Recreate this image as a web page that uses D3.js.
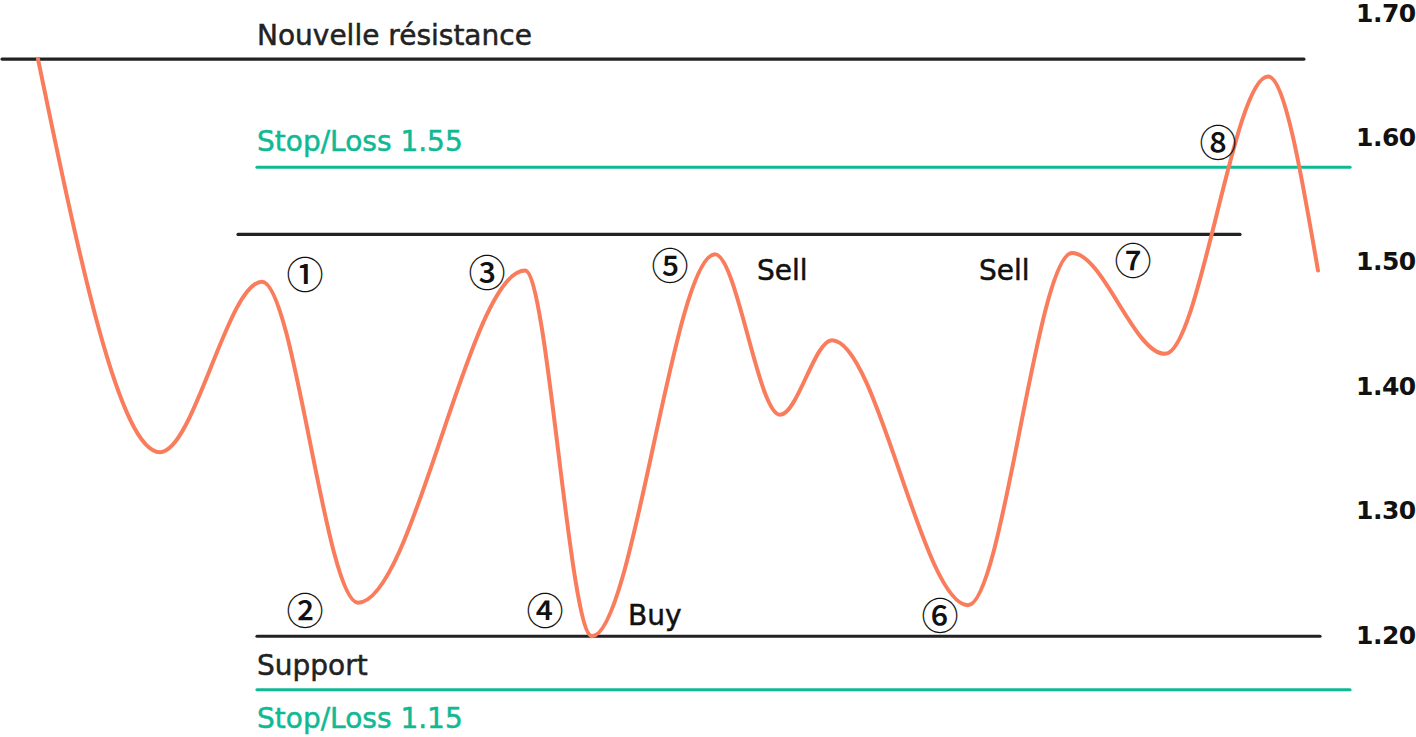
<!DOCTYPE html>
<html><head><meta charset="utf-8">
<script src="https://cdn.jsdelivr.net/npm/d3@7"></script>
<style>
html,body{margin:0;padding:0;background:#fff;}
svg{display:block;}
</style></head>
<body>
<svg id="chart" width="1416" height="737"></svg>
<script>
// ---- data ----
const priceT = [3.8, 16.0, 26.2, 35.8, 52.5, 59.2, 71.5, 78.0, 83.2, 96.8, 107.2, 116.5, 126.8, 131.8];
const priceV = [1.663, 1.347, 1.484, 1.226, 1.493, 1.199, 1.506, 1.377, 1.437, 1.224, 1.507, 1.426, 1.649, 1.493];

const levelNames = ["Nouvelle résistance", "Stop/Loss 1.55", "Résistance", "Support", "Stop/Loss 1.15"];
const levelValues = [1.663, 1.576, 1.522, 1.199, 1.156];
const levelStart = [0.2, 25.7, 23.8, 25.7, 25.7];
const levelEnd = [130.4, 135.0, 124.0, 132.0, 135.0];
const levelKind = ["black", "green", "black", "black", "green"];

const tickLabels = ["1.70", "1.60", "1.50", "1.40", "1.30", "1.20"];
const tickValues = [1.70, 1.60, 1.50, 1.40, 1.30, 1.20];

const markerLabels = ["①", "②", "③", "④", "⑤", "⑥", "⑦", "⑧"];
const markerT = [30.5, 30.5, 48.7, 54.5, 67.0, 94.0, 113.3, 121.8];
const markerV = [1.491, 1.221, 1.493, 1.221, 1.498, 1.217, 1.502, 1.597];

const actionLabels = ["Sell", "Sell", "Buy"];
const actionT = [75.7, 97.9, 62.8];
const actionV = [1.485, 1.485, 1.208];

const levelTextLabels = ["Nouvelle résistance", "Stop/Loss 1.55", "Support", "Stop/Loss 1.15"];
const levelTextT = [25.7, 25.7, 25.7, 25.7];
const levelTextV = [1.674, 1.589, 1.168, 1.125];
const levelTextKind = ["black", "green", "black", "green"];

// ---- scales ----
const x = d3.scaleLinear().domain([0, 141.6]).range([0, 1416]);
const y = d3.scaleLinear().domain([1.20, 1.70]).range([635, 13]);

const svg = d3.select("#chart");
const colors = {black: "#222222", green: "#10b994", line: "#f97c5c", text: "#111111"};
const font = "'DejaVu Sans', sans-serif";

// level lines
svg.selectAll("line.level").data(levelValues).enter().append("line")
  .attr("class", "level")
  .attr("x1", (d, i) => x(levelStart[i]))
  .attr("x2", (d, i) => x(levelEnd[i]))
  .attr("y1", d => y(d)).attr("y2", d => y(d))
  .attr("stroke", (d, i) => colors[levelKind[i]])
  .attr("stroke-width", 3.2)
  .attr("stroke-linecap", "round");

// price curve
const pts = priceT.map((t, i) => [t, priceV[i]]);
const line = d3.line().x(d => x(d[0])).y(d => y(d[1])).curve(d3.curveMonotoneX);
svg.append("path").datum(pts)
  .attr("d", line)
  .attr("fill", "none")
  .attr("stroke", colors.line)
  .attr("stroke-width", 4)
  .attr("stroke-linecap", "round");

// y-axis labels (right)
const yAxis = d3.axisRight(y).tickValues(tickValues).tickFormat((d, i) => tickLabels[i]).tickSize(0).tickPadding(0);
const ag = svg.append("g").attr("transform", "translate(1356,0)").call(yAxis);
ag.select(".domain").remove();
ag.selectAll("text").attr("font-family", font).attr("font-size", 25).attr("font-weight", "bold").attr("fill", colors.text).attr("letter-spacing", "-0.5");

// level text labels
svg.selectAll("text.lvl").data(levelTextLabels).enter().append("text")
  .attr("class", "lvl")
  .attr("x", (d, i) => x(levelTextT[i]))
  .attr("y", (d, i) => y(levelTextV[i]))
  .attr("font-family", font).attr("font-size", 28)
  .attr("fill", (d, i) => colors[levelTextKind[i]])
  .attr("stroke", (d, i) => colors[levelTextKind[i]])
  .attr("stroke-width", 0.5)
  .text(d => d);

// action labels
svg.selectAll("text.act").data(actionLabels).enter().append("text")
  .attr("class", "act")
  .attr("x", (d, i) => x(actionT[i]))
  .attr("y", (d, i) => y(actionV[i]))
  .attr("font-family", font).attr("font-size", 28)
  .attr("fill", colors.text)
  .attr("stroke", colors.text)
  .attr("stroke-width", 0.5)
  .text(d => d);

// circled markers
svg.selectAll("text.mk").data(markerLabels).enter().append("text")
  .attr("class", "mk")
  .attr("x", (d, i) => x(markerT[i]))
  .attr("y", (d, i) => y(markerV[i]))
  .attr("text-anchor", "middle")
  .attr("dominant-baseline", "central")
  .attr("font-family", "'Noto Sans CJK JP', 'DejaVu Sans', sans-serif")
  .attr("font-size", 37)
  .attr("font-weight", 500)
  .attr("fill", colors.text)
  .text(d => d);
</script>
</body></html>
